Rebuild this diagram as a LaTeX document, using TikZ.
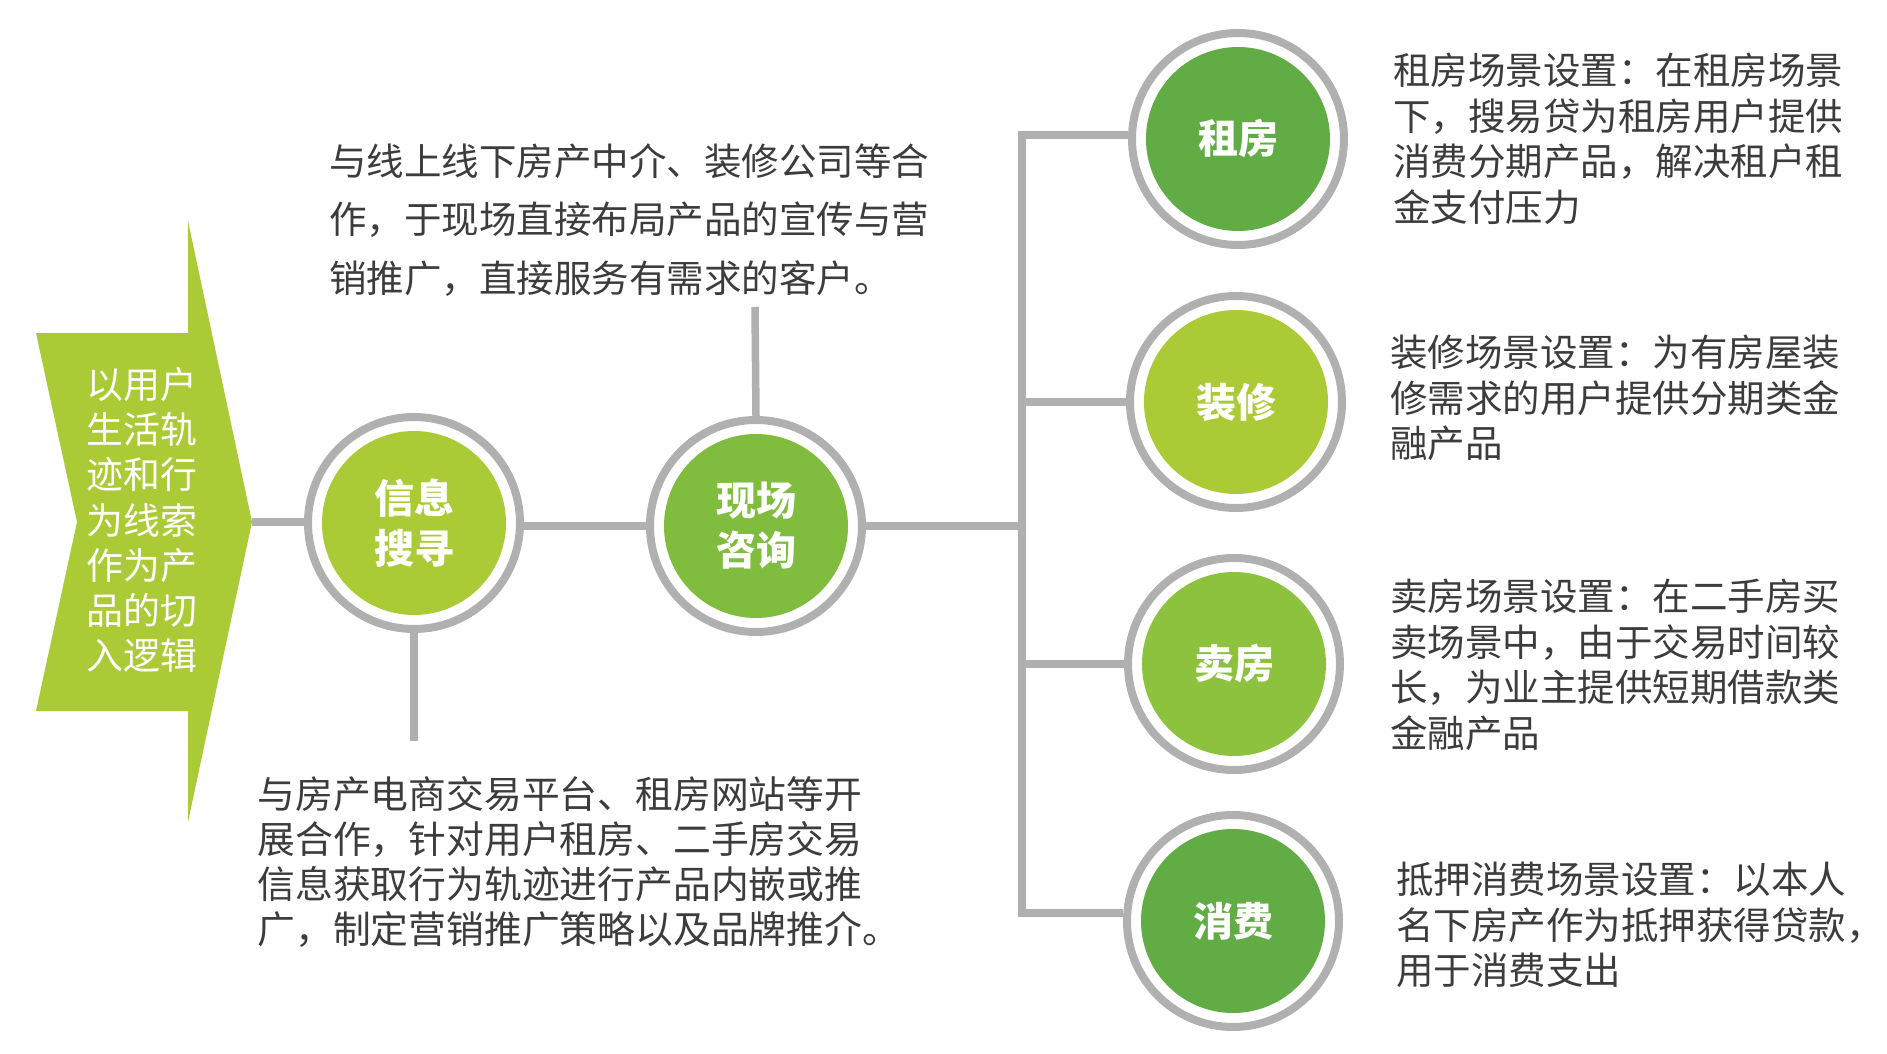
\documentclass[tikz,border=0pt]{standalone}
\usepackage{fontspec}
\newfontfamily\cjk{Noto Sans CJK SC}
\definecolor{lime}{HTML}{ABCB36}
\definecolor{gmid}{HTML}{80BC3E}
\definecolor{glight}{HTML}{8CC23E}
\definecolor{gdark}{HTML}{62AC45}
\definecolor{ringgray}{HTML}{B0B0B0}
\definecolor{txtgray}{HTML}{3C3C3C}
\tikzset{
  ring/.style={circle, draw=ringgray, line width=4pt, minimum size=106pt, inner sep=0pt,
    text=white, font=\cjk\bfseries\fontsize{20pt}{25pt}\selectfont, align=center,
    path picture={\fill[#1] (path picture bounding box.center) circle (46pt);}},
  conn/.style={draw=ringgray, line width=3.75pt},
  desc/.style={anchor=west, inner sep=0pt, align=left, text=txtgray,
    font=\cjk\fontsize{18.75pt}{22.75pt}\selectfont},
}
\begin{document}
\begin{tikzpicture}[x=0.5pt, y=-0.5pt]
\useasboundingbox[fill=white] (0,0) rectangle (1887,1054);

% left arrow
\fill[lime] (36,333) -- (188,333) -- (188,221) -- (252,522) -- (188,822) -- (188,711) -- (36,711) -- (77,522) -- cycle;
\coordinate (tip) at (252,522);
\node[anchor=west, inner sep=0pt, align=left, text=white,
  font=\cjk\fontsize{18.45pt}{22.6pt}\selectfont] (arrtxt) at (86,520)
  {以用户\\生活轨\\迹和行\\为线索\\作为产\\品的切\\入逻辑};

% main circles
\node[ring=lime] (info) at (414,523) {信息\\搜寻};
\node[ring=gmid] (xc) at (756,526) {现场\\咨询};

% right circles
\node[ring=gdark] (zf) at (1238,139) {租房};
\node[ring=lime] (zx) at (1236,402) {装修};
\node[ring=glight] (mf) at (1234,664) {卖房};
\node[ring=gdark] (xf) at (1233,921) {消费};

% texts
\node[desc, font=\cjk\fontsize{18.75pt}{29.3pt}\selectfont] (toptxt) at (329,220)
  {与线上线下房产中介、装修公司等合\\作，于现场直接布局产品的宣传与营\\销推广，直接服务有需求的客户。};
\node[desc, font=\cjk\fontsize{18.9pt}{22.6pt}\selectfont] (bottxt) at (257,862)
  {与房产电商交易平台、租房网站等开\\展合作，针对用户租房、二手房交易\\信息获取行为轨迹进行产品内嵌或推\\广，制定营销推广策略以及品牌推介。};
\node[desc] (zftxt) at (1393,139) {租房场景设置：在租房场景\\下，搜易贷为租房用户提供\\消费分期产品，解决租户租\\金支付压力};
\node[desc] (zxtxt) at (1390,398) {装修场景设置：为有房屋装\\修需求的用户提供分期类金\\融产品};
\node[desc] (mftxt) at (1390,665) {卖房场景设置：在二手房买\\卖场景中，由于交易时间较\\长，为业主提供短期借款类\\金融产品};
\node[desc] (xftxt) at (1396,925) {抵押消费场景设置：以本人\\名下房产作为抵押获得贷款，\\用于消费支出};

% connector coordinates
\coordinate (topend) at (755,307);
\coordinate (botend) at (414,741);
\coordinate (bxc) at (1022,526);
\coordinate (btop) at (1022,135);
\coordinate (b2) at (1022,402);
\coordinate (b3) at (1022,664);
\coordinate (bbot) at (1022,913);

% connectors
\draw[conn] (tip) -- (tip -| info.west);
\draw[conn] (xc.west) -- (xc.west -| info.east);
\draw[conn] (info.south) -- (botend);
\draw[conn] (xc.north) -- (topend);
\draw[conn] (xc.east) -- (bxc);
\draw[conn, line join=miter] (btop -| zf.west) -- (btop) -- (bbot) -- (bbot -| xf.west);
\draw[conn] (b2) -- (zx.west);
\draw[conn] (b3) -- (mf.west);
\end{tikzpicture}
\end{document}
